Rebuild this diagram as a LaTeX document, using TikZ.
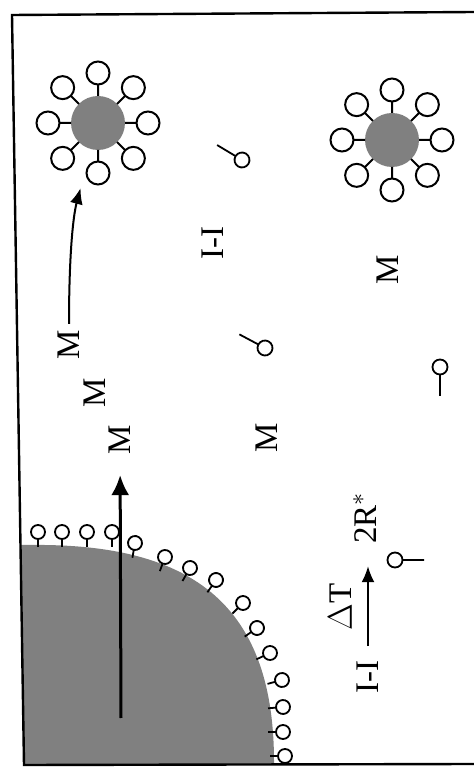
\documentclass[tikz,border=0pt]{standalone}
\usepackage{fontspec}
\setmainfont{Liberation Serif}
\usetikzlibrary{arrows.meta}
\tikzset{x=0.5pt, y=0.5pt,
  frame/.style={line width=1.2pt},
  core/.style={circle, fill=black!50, minimum size=27pt, inner sep=0pt},
  lbl/.style={rotate=90, inner sep=3pt, font=\fontsize{16.5}{19}\selectfont},
  bigarrow/.style={line width=1.5pt, -{Latex[length=10pt,width=9pt]}},
  arrow/.style={line width=1pt, -{Latex[length=8pt,width=6.5pt]}},
  arm/.pic={\draw[line width=1pt] (27,0) -- (38.5,0) (50,0) circle (11.5);},
  head/.pic={\draw[line width=0.9pt] (-7,0) -- (-15,0) (0,0) circle (7);},
  tail/.pic={\draw[line width=0.9pt] (-7.5,0) -- (-29,0) (0,0) circle (7.5);}}

\begin{document}
\begin{tikzpicture}
  \useasboundingbox (0,0) rectangle (474,767);

  % particle surface and the box
  \fill[black!50] (20,222) -- (30,222) .. controls (195,224) and (275,160) .. (274,2)
    -- (24,2) -- cycle;
  \draw[frame] (474,755) -- (12,752) -- (24,2) -- (474,3);
  \foreach \x/\y/\a in {38/235/90, 62/235/90, 87/235/90, 112/235/90,
      135/224/80, 165/210/70, 190/199/60, 216/187/55, 243/164/45,
      257/139/35, 270/114/25, 282/87/15, 283/60/5, 283/35/0, 285/11/0}
    \pic[rotate=\a] at (\x,\y) {head};

  % micelles
  \node[core] (mic1) at (98,644) {};
  \node[core] (mic2) at (392,627) {};
  \foreach \a in {0,45,...,315} {
    \pic[rotate=\a] at (mic1) {arm};
    \pic[rotate=\a] at (mic2) {arm};
  }

  % free surfactant
  \pic[rotate=-31] at (242,607) {tail};
  \pic[rotate=-28] at (265,419) {tail};
  \pic[rotate=90] at (440,400) {tail};
  \pic[rotate=180] at (395,207) {tail};

  % labels
  \node[lbl] (m1) at (120,327) {M};
  \node[lbl] (m2) at (95,374) {M};
  \node[lbl] (m3) at (69,422) {M};
  \node[lbl] (m4) at (267,329) {M};
  \node[lbl] (m5) at (388,497) {M};
  \node[lbl] (ii1) at (213,524) {I-I};
  \node[lbl] (ii2) at (368,90) {I-I};
  \node[lbl] (heat) at (340,160) {$\Delta$T};
  \node[lbl] (rad) at (365,249) {2R$^*$};

  \coordinate (bulk) at (121,49);
  \draw[bigarrow, shorten >=7pt] (bulk) -- (m1);
  \draw[arrow, shorten >=20pt] (m3.east) to[out=90, in=255] (mic1);
  \draw[arrow, shorten <=4pt, shorten >=8pt] (ii2.east) -- (ii2.east |- rad.west);
\end{tikzpicture}
\end{document}
